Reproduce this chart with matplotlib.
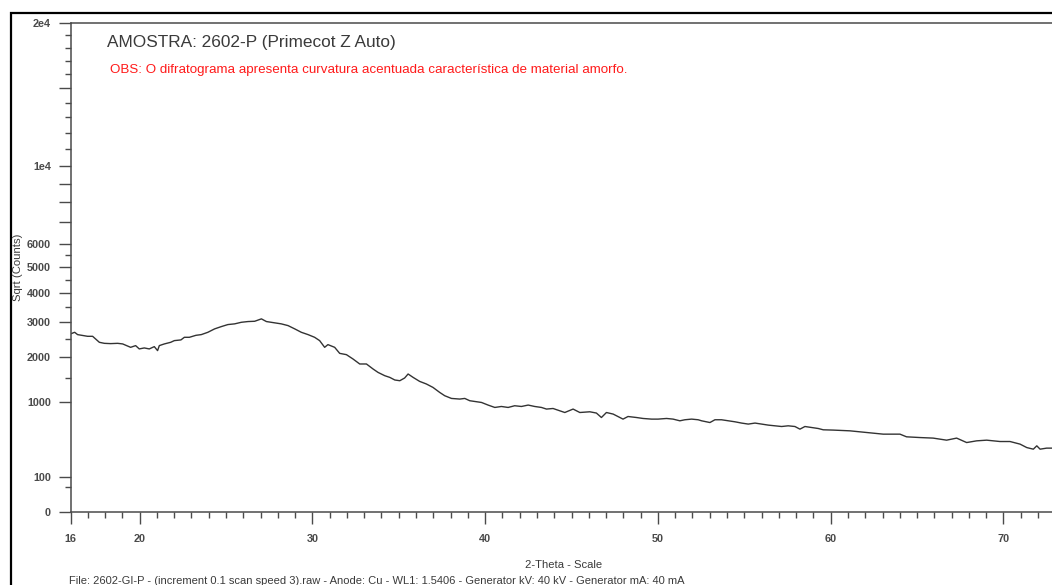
import numpy as np
import matplotlib
matplotlib.use("Agg")
import matplotlib.pyplot as plt
from matplotlib.patches import Rectangle

# ---- data ----
two_theta = [16.00, 16.24, 16.41, 16.99, 17.28, 17.67, 17.96, 18.32, 18.73, 19.02,
             19.48, 19.77, 19.98, 20.27, 20.56, 20.85, 21.04, 21.14, 21.43, 21.80,
             22.01, 22.39, 22.59, 22.88, 23.26, 23.57, 23.95, 24.34, 24.73, 25.11,
             25.50, 25.89, 26.27, 26.66, 27.05, 27.34, 27.82, 28.20, 28.59, 28.98,
             29.36, 29.75, 30.13, 30.42, 30.71, 30.90, 31.29, 31.58, 31.97, 32.35,
             32.74, 33.13, 33.51, 33.80, 34.19, 34.48, 34.77, 35.06, 35.34, 35.54,
             35.83, 36.21, 36.60, 36.98, 37.37, 37.66, 38.05, 38.53, 38.82, 39.11,
             39.50, 39.79, 40.17, 40.56, 40.94, 41.33, 41.71, 42.10, 42.49, 42.87,
             43.26, 43.55, 43.93, 44.32, 44.61, 45.00, 45.09, 45.48, 46.06, 46.44,
             46.73, 47.02, 47.41, 47.98, 48.27, 48.76, 49.14, 49.63, 50.01, 50.50,
             50.88, 51.27, 51.56, 51.95, 52.33, 52.53, 53.01, 53.30, 53.68, 54.07,
             54.46, 54.84, 55.23, 55.62, 56.00, 56.39, 56.77, 57.16, 57.54, 57.93,
             58.22, 58.51, 58.89, 59.28, 59.57, 60.15, 61.11, 62.08, 63.04, 64.01,
             64.39, 65.16, 65.93, 66.71, 67.29, 67.87, 68.45, 69.03, 69.80, 70.38,
             70.96, 71.35, 71.73, 71.93, 72.12, 72.50, 72.81]
counts = [2644, 2692, 2623, 2573, 2573, 2400, 2371, 2363, 2371, 2354,
          2260, 2307, 2216, 2243, 2216, 2279, 2170, 2307, 2354, 2400,
          2448, 2468, 2544, 2544, 2602, 2623, 2692, 2795, 2866, 2929,
          2951, 3001, 3024, 3033, 3110, 3024, 2982, 2951, 2897, 2795,
          2692, 2623, 2544, 2448, 2260, 2335, 2260, 2097, 2063, 1951,
          1825, 1825, 1704, 1623, 1547, 1509, 1451, 1435, 1495, 1586,
          1509, 1420, 1364, 1292, 1190, 1125, 1073, 1061, 1073, 1030,
          1011, 998, 951, 909, 926, 909, 939, 926, 951, 926,
          909, 881, 891, 852, 823, 869, 881, 823, 835, 814,
          742, 823, 797, 717, 758, 742, 727, 717, 717, 727,
          717, 691, 707, 717, 707, 691, 665, 707, 707, 691,
          676, 657, 642, 657, 642, 627, 617, 607, 617, 607,
          570, 607, 593, 579, 561, 557, 547, 524, 503, 503,
          469, 460, 453, 428, 453, 400, 420, 428, 412, 412,
          382, 344, 327, 363, 327, 338, 338]

x_major = [16, 20, 30, 40, 50, 60, 70]
x_major_labels = ["16", "20", "30", "40", "50", "60", "70"]
x_minor = list(range(17, 73))
y_major = [0, 100, 1000, 2000, 3000, 4000, 5000, 6000, 7000, 8000, 9000, 10000, 15000, 20000]
y_major_labels = ["0", "100", "1000", "2000", "3000", "4000", "5000", "6000", "", "", "", "1e4", "", "2e4"]
y_minor = [50, 1500, 2500, 3500, 4500, 5500, 11000, 12000, 13000, 14000, 16000, 17000, 18000, 19000]

title_text = "AMOSTRA: 2602-P (Primecot Z Auto)"
obs_text = "OBS: O difratograma apresenta curvatura acentuada característica de material amorfo."
xlabel_text = "2-Theta - Scale"
ylabel_text = "Sqrt (Counts)"
footer_text = ("File: 2602-GI-P - (increment 0.1 scan speed 3).raw - Anode: Cu - WL1: 1.5406 - "
               "Generator kV: 40 kV - Generator mA: 40 mA")

# ---- figure ----
W, H = 1052, 585
fig = plt.figure(figsize=(W / 100, H / 100), dpi=100)
fig.patch.set_facecolor("white")

ax_left, ax_right, ax_top, ax_bottom = 70.5, 1052, 22.7, 511.7
ax = fig.add_axes([ax_left / W, 1 - ax_bottom / H, (ax_right - ax_left) / W, (ax_bottom - ax_top) / H])

def fwd(v):
    return np.sqrt(np.clip(v, 0, None))

def inv(v):
    return np.asarray(v) ** 2

ax.set_yscale("function", functions=(fwd, inv))
ax.plot(two_theta, counts, color="#333333", lw=1.0)
ax.set_xlim(16, 72.81)
ax.set_ylim(0, 20000)

ax.set_xticks(x_major)
ax.set_xticklabels(x_major_labels)
ax.set_xticks(x_minor, minor=True)
ax.set_yticks(y_major)
ax.set_yticklabels(y_major_labels)
ax.set_yticks(y_minor, minor=True)

axis_col = "#4a4a4a"
ax.spines["right"].set_visible(False)
for s in ["left", "bottom", "top"]:
    ax.spines[s].set_color(axis_col)
    ax.spines[s].set_linewidth(1.1)

ax.tick_params(axis="both", which="major", direction="out", length=8.5, width=1.0,
               color=axis_col, labelsize=7.8, labelcolor="#4a4a4a")
ax.tick_params(axis="both", which="minor", direction="out", length=4, width=1.0, color=axis_col)
ax.tick_params(axis="x", which="major", pad=7.5)
ax.tick_params(axis="y", which="major", pad=5.5)
ax.tick_params(top=False, which="both")
for lbl in ax.get_xticklabels() + ax.get_yticklabels():
    lbl.set_fontfamily("Liberation Sans")
    lbl.set_fontweight("bold")

# texts
fig.text(107 / W, 1 - 42 / H, title_text, family="Liberation Sans", fontsize=12.4,
         color="#3a3a3a", ha="left", va="center")
fig.text(110 / W, 1 - 70 / H, obs_text, family="Liberation Sans", fontsize=9.65,
         color="#ff1a1a", ha="left", va="center")
fig.text(18 / W, 1 - 267 / H, ylabel_text, family="Liberation Sans", fontsize=8.1,
         color="#3a3a3a", rotation=90, ha="center", va="center")
fig.text(564 / W, 1 - 565 / H, xlabel_text, family="Liberation Sans", fontsize=8.1,
         color="#3a3a3a", ha="center", va="center")
fig.text(69 / W, 1 - 581 / H, footer_text, family="Liberation Sans", fontsize=8.0,
         color="#3a3a3a", ha="left", va="center")

# outer frame
fig.patches.append(Rectangle((10.5 / W, -0.2), 2.0, 1.2 - 12.5 / H, transform=fig.transFigure,
                             fill=False, edgecolor="black", lw=1.6))

fig.savefig("out.png", dpi=100)
